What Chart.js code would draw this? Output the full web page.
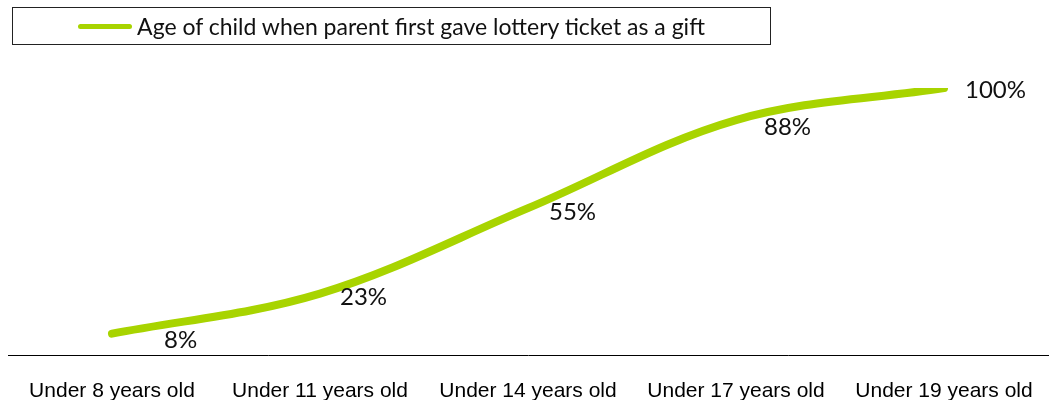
<!DOCTYPE html>
<html>
<head>
<meta charset="utf-8">
<script src="https://cdn.jsdelivr.net/npm/chart.js"></script>
<style>
  html, body { margin: 0; padding: 0; background: #fff; }
  #wrap { position: relative; width: 1053px; height: 404px; }
  canvas { display: block; }
  #legend {
    position: absolute; left: 12px; top: 7px; width: 757px; height: 36px;
    border: 1px solid #222; display: flex; align-items: center; justify-content: center;
    font-family: Lato, sans-serif; font-size: 23px; color: #111;
  }
  #legend .swatch { display: inline-block; width: 54px; height: 5px; background: #a8d400; border-radius: 3px; margin-right: 5px; }
</style>
</head>
<body>
<div id="wrap">
  <canvas id="chart" width="1053" height="404"></canvas>
  <div id="legend"><span class="swatch"></span><span id="legendText"></span></div>
</div>
<script>
const seriesName = 'Age of child when parent first gave lottery ticket as a gift';
const categories = ['Under 8 years old', 'Under 11 years old', 'Under 14 years old', 'Under 17 years old', 'Under 19 years old'];
const values = [8, 23, 55, 88, 100];
const valueLabels = ['8%', '23%', '55%', '88%', '100%'];

const lineColor = '#a8d400';
document.getElementById('legendText').textContent = seriesName;

// value labels sit to the right of and slightly below each point
const labelOffsets = [[52, 7], [20, 4], [21, 4], [28, 7], [21, 2]];

const valueLabelPlugin = {
  id: 'valueLabels',
  afterDatasetsDraw: (chart) => {
    const { ctx } = chart;
    const meta = chart.getDatasetMeta(0);
    ctx.save();
    ctx.font = '24px Lato, sans-serif';
    ctx.fillStyle = '#111';
    ctx.textAlign = 'left';
    ctx.textBaseline = 'middle';
    meta.data.forEach((pt, i) => {
      const [dx, dy] = labelOffsets[i];
      ctx.fillText(valueLabels[i], pt.x + dx, pt.y + dy);
    });
    ctx.restore();
  }
};

new Chart(document.getElementById('chart').getContext('2d'), {
  type: 'line',
  data: {
    labels: categories,
    datasets: [{
      label: seriesName,
      data: values,
      borderColor: lineColor,
      borderWidth: 8,
      borderCapStyle: 'round',
      borderJoinStyle: 'round',
      tension: 0.35,
      pointRadius: 0,
      fill: false
    }]
  },
  options: {
    responsive: false,
    animation: false,
    layout: { padding: { left: 8, right: 5, top: 88, bottom: 4 } },
    scales: {
      x: {
        offset: true,
        grid: { display: false, drawTicks: false },
        border: { display: true, color: '#000', width: 1 },
        afterFit: (scale) => {
          scale.height = 45;
          scale.paddingLeft = 0;
          scale.paddingRight = 0;
        },
        ticks: {
          color: '#000',
          padding: 24,
          maxRotation: 0,
          font: { family: '"Liberation Sans", Arial, sans-serif', size: 21 }
        }
      },
      y: {
        display: false,
        min: 0,
        max: 100
      }
    },
    plugins: {
      legend: { display: false },
      tooltip: { enabled: false }
    }
  },
  plugins: [valueLabelPlugin]
});
</script>
</body>
</html>
